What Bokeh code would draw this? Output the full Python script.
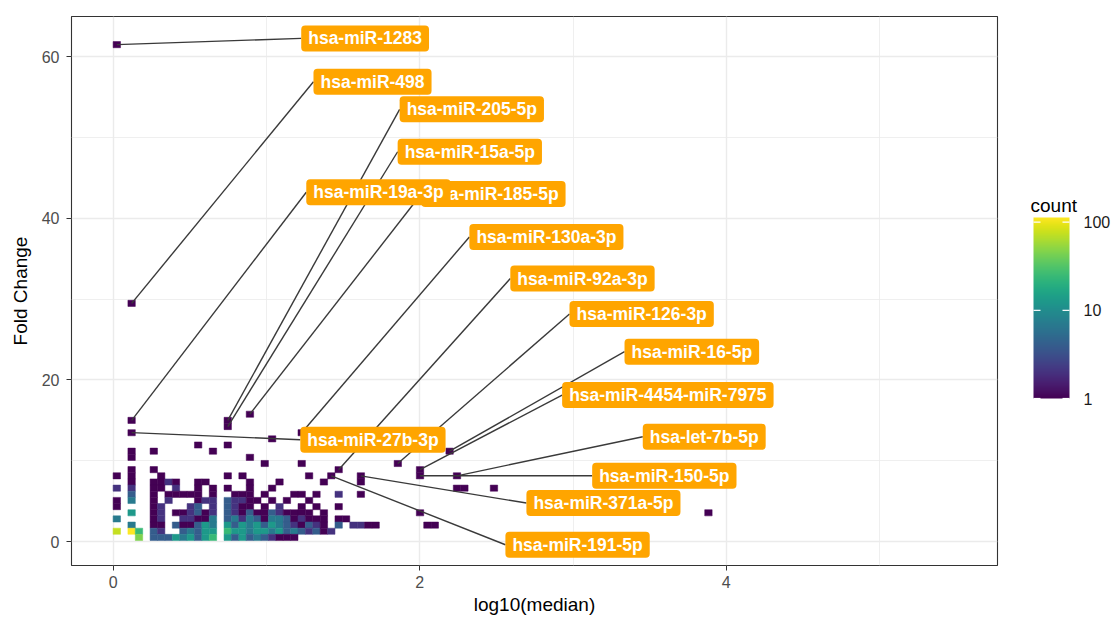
import numpy as np
from bokeh.plotting import figure
from bokeh.layouts import row
from bokeh.models import (ColumnDataSource, LogColorMapper, FixedTicker, Range1d)
from bokeh.palettes import Viridis256
from bokeh.transform import transform
from bokeh.core.properties import value
from bokeh.embed import file_html
from bokeh.resources import INLINE

# ---------------- data ----------------
# 2-D histogram bins (log10(median) x Fold Change)
BIN_W = 0.04824
BIN_H = 0.7624
Y_ORIGIN = 0.124

# row index (fold-change bin) -> {column index (log10 median bin): count}
HEAT_ROWS = {
    80: {0: 1},
    38: {2: 1},
    20: {18: 1},
    19: {2: 1, 15: 1},
    18: {15: 1},
    17: {2: 1, 25: 1},
    16: {21: 1},
    15: {11: 1, 15: 1},
    14: {2: 1, 5: 1, 13: 1, 45: 1},
    13: {2: 1, 18: 1},
    12: {20: 1, 25: 1, 38: 1},
    11: {2: 1, 5: 1, 30: 1, 41: 1},
    10: {0: 1, 2: 1, 6: 1, 15: 1, 17: 1, 26: 1, 29: 1, 33: 1, 41: 1, 46: 1},
    9: {2: 1, 5: 1, 6: 1, 7: 2, 8: 1, 11: 1, 12: 1, 18: 1, 22: 1, 28: 1, 33: 1},
    8: {0: 2, 2: 2, 5: 1, 6: 1, 8: 2, 11: 1, 13: 1, 15: 1, 18: 1, 21: 1, 46: 1, 47: 1, 51: 1},
    7: {2: 4, 5: 1, 7: 1, 8: 1, 9: 1, 10: 1, 11: 1, 13: 1, 16: 1, 17: 1, 18: 1, 20: 1,
        24: 1, 25: 1, 27: 1, 30: 2, 33: 1},
    6: {0: 1, 2: 7, 5: 1, 7: 2, 11: 1, 12: 2, 13: 2, 15: 4, 16: 2, 17: 2, 18: 1, 19: 1,
        21: 1, 23: 1, 26: 1},
    5: {0: 1, 5: 1, 6: 2, 10: 2, 11: 4, 13: 2, 15: 4, 16: 2, 17: 1, 18: 1, 20: 1, 22: 2,
        25: 1, 27: 1, 30: 1},
    4: {2: 13, 5: 1, 6: 2, 8: 1, 9: 1, 10: 2, 11: 4, 12: 1, 13: 2, 15: 4, 16: 2, 17: 1,
        18: 4, 19: 1, 20: 1, 21: 4, 22: 2, 23: 1, 24: 1, 25: 1, 26: 1, 28: 1, 41: 1, 80: 1},
    3: {0: 7, 5: 1, 6: 2, 9: 2, 10: 2, 11: 1, 12: 1, 13: 7, 15: 4, 16: 7, 17: 2, 18: 7,
        19: 4, 20: 1, 21: 7, 22: 7, 23: 4, 24: 1, 25: 2, 26: 1, 27: 1, 28: 1, 30: 1, 31: 1},
    2: {2: 7, 5: 1, 6: 1, 8: 4, 9: 1, 10: 1, 11: 4, 12: 13, 13: 7, 15: 13, 16: 4, 17: 13,
        18: 7, 19: 13, 20: 4, 21: 13, 22: 7, 23: 4, 24: 2, 25: 1, 26: 4, 27: 2, 28: 1,
        30: 4, 32: 2, 33: 2, 34: 1, 35: 1, 42: 1, 43: 1},
    1: {0: 75, 2: 113, 3: 24, 5: 4, 6: 2, 9: 4, 10: 7, 11: 4, 12: 13, 13: 13, 15: 24,
        16: 13, 17: 13, 18: 7, 19: 13, 20: 13, 21: 7, 22: 13, 23: 4, 24: 7, 25: 4, 26: 2,
        27: 4, 28: 1, 29: 2},
    0: {3: 45, 5: 4, 6: 4, 7: 4, 8: 13, 9: 7, 10: 13, 11: 4, 12: 13, 13: 24, 15: 13,
        16: 4, 17: 13, 18: 4, 19: 7, 20: 4, 21: 2, 22: 1, 23: 1, 24: 1},
}

# labelled miRNAs: data point and label-box anchor (left edge, vertical centre)
LABELS = ["hsa-miR-1283", "hsa-miR-498", "hsa-miR-205-5p", "hsa-miR-15a-5p",
          "hsa-miR-185-5p", "hsa-miR-19a-3p", "hsa-miR-130a-3p", "hsa-miR-92a-3p",
          "hsa-miR-126-3p", "hsa-miR-16-5p", "hsa-miR-4454-miR-7975", "hsa-let-7b-5p",
          "hsa-miR-27b-3p", "hsa-miR-150-5p", "hsa-miR-371a-5p", "hsa-miR-191-5p"]
POINT_X = [0.024, 0.121, 0.748, 0.748, 0.892, 0.121, 1.230, 1.471,
           1.857, 2.195, 2.002, 2.243, 0.121, 2.002, 1.616, 1.423]
POINT_Y = [61.50, 29.48, 14.99, 14.23, 15.76, 14.99, 13.47, 8.89,
           9.65, 11.18, 8.89, 8.13, 13.47, 8.13, 8.13, 8.13]
LABEL_X = [1.227, 1.307, 1.869, 1.856, 2.010, 1.260, 2.324, 2.591,
           2.977, 3.336, 2.929, 3.455, 1.221, 3.125, 2.696, 2.559]
LABEL_Y = [62.27, 56.91, 53.49, 48.24, 43.01, 43.23, 37.69, 32.55,
           28.16, 23.49, 18.13, 12.97, 12.60, 8.13, 4.76, -0.40]

X_TICKS = [0, 2, 4]
X_MINOR = [1, 3, 5]
Y_TICKS = [0, 20, 40, 60]
Y_MINOR = [10, 30, 50]
COUNT_MIN = 1
COUNT_MAX = 113
COUNT_TICKS = [1, 10, 100]
LEGEND_TITLE = ["count"]

# ---------------- build ----------------
hx, hy, hn = [], [], []
for j, r in HEAT_ROWS.items():
    for i, n in r.items():
        hx.append((i + 0.5) * BIN_W)
        hy.append(Y_ORIGIN + (j + 0.5) * BIN_H)
        hn.append(n)
heat = ColumnDataSource(dict(x=hx, y=hy, n=hn))

FONT = "Liberation Sans"
MAIN_W = 1010
LEG_W = 1113 - MAIN_W
H = 619
FRAME_TOP, FRAME_BOTTOM = 16, 565

p = figure(width=MAIN_W, height=H, x_range=(-0.2715, 5.769), y_range=(-2.97, 64.98),
           output_backend="svg", toolbar_location=None,
           min_border_left=71, min_border_right=13, min_border_top=FRAME_TOP,
           min_border_bottom=H - FRAME_BOTTOM)
p.background_fill_color = "white"
p.border_fill_color = "white"
p.outline_line_color = "#333333"
p.outline_line_width = 1.1

xt = FixedTicker(ticks=X_TICKS, minor_ticks=X_MINOR)
yt = FixedTicker(ticks=Y_TICKS, minor_ticks=Y_MINOR)
p.xaxis.ticker = xt
p.yaxis.ticker = yt
p.xgrid.ticker = xt
p.ygrid.ticker = yt
for g in (p.xgrid, p.ygrid):
    g.grid_line_color = "#EBEBEB"
    g.grid_line_width = 1.4
    g.minor_grid_line_color = "#EBEBEB"
    g.minor_grid_line_width = 0.8

for ax in (p.xaxis, p.yaxis):
    ax.axis_line_color = None
    ax.major_tick_line_color = "#333333"
    ax.major_tick_out = 5
    ax.major_tick_in = 0
    ax.minor_tick_line_color = None
    ax.major_label_text_font = FONT
    ax.major_label_text_font_size = "16px"
    ax.major_label_text_color = "#4D4D4D"
    ax.axis_label_text_font = FONT
    ax.axis_label_text_font_size = "19px"
    ax.axis_label_text_font_style = "normal"
    ax.axis_label_text_color = "black"
p.xaxis.axis_label = "log10(median)"
p.yaxis.axis_label = "Fold Change"
p.xaxis.major_label_standoff = 5
p.xaxis.axis_label_standoff = 3
p.yaxis.major_label_standoff = 7
p.yaxis.axis_label_standoff = 8

mapper = LogColorMapper(palette=Viridis256, low=COUNT_MIN, high=COUNT_MAX)
p.rect(x="x", y="y", width=BIN_W, height=BIN_H, source=heat,
       fill_color=transform("n", mapper), line_color=transform("n", mapper), line_width=0.5)

lab = ColumnDataSource(dict(px=POINT_X, py=POINT_Y, lx=LABEL_X, ly=LABEL_Y, text=LABELS))
p.segment(x0="px", y0="py", x1="lx", y1="ly", source=lab, line_color="#3a3a3a", line_width=1.4)
p.text(x="lx", y="ly", text="text", source=lab, anchor="center_left",
       text_font=value(FONT), text_font_style="bold", text_font_size="17.5px",
       text_color="white", background_fill_color="#FFA500", border_line_color=None,
       border_radius=4, padding=dict(left=7, right=7, top=3, bottom=3))

# ---- legend panel (separate figure; its frame is aligned with the main frame,
#      so the y range is expressed in pixels measured up from the canvas bottom) ----
leg = figure(width=LEG_W, height=H, x_range=Range1d(0, LEG_W),
             y_range=Range1d(H - FRAME_BOTTOM, H - FRAME_TOP),
             x_axis_type=None, y_axis_type=None,
             output_backend="svg", toolbar_location=None,
             min_border=0, min_border_left=0, min_border_right=0,
             min_border_top=FRAME_TOP, min_border_bottom=H - FRAME_BOTTOM)
leg.grid.visible = False
leg.outline_line_color = None
leg.background_fill_color = "white"
leg.border_fill_color = "white"

BAR_X0, BAR_W = 23, 36
BAR_Y0, BAR_H = H - 398, 181

leg.text(x=[20], y=[H - 205], text=LEGEND_TITLE, text_font=value(FONT),
         text_font_size="19px", text_color="black", text_baseline="alphabetic",
         text_align="left")

grad = 10 ** np.linspace(np.log10(COUNT_MIN), np.log10(COUNT_MAX), 256)
leg.image(image=[grad.reshape(256, 1)], x=BAR_X0, y=BAR_Y0, dw=BAR_W, dh=BAR_H,
          color_mapper=mapper)

tick_y = [BAR_Y0 + (np.log10(v) - np.log10(COUNT_MIN)) /
          (np.log10(COUNT_MAX) - np.log10(COUNT_MIN)) * BAR_H for v in COUNT_TICKS]
tick_len = 7
leg.segment(x0=[BAR_X0] * len(tick_y), y0=tick_y,
            x1=[BAR_X0 + tick_len] * len(tick_y), y1=tick_y,
            line_color="white", line_width=1.2)
leg.segment(x0=[BAR_X0 + BAR_W - tick_len] * len(tick_y), y0=tick_y,
            x1=[BAR_X0 + BAR_W] * len(tick_y), y1=tick_y,
            line_color="white", line_width=1.2)
leg.text(x=[BAR_X0 + BAR_W + 14] * len(tick_y), y=tick_y,
         text=[str(v) for v in COUNT_TICKS], text_font=value(FONT),
         text_font_size="16px", text_color="#1A1A1A", text_baseline="middle",
         text_align="left")

layout = row(p, leg, spacing=0)
open("out.html", "w").write(file_html(layout, INLINE))
